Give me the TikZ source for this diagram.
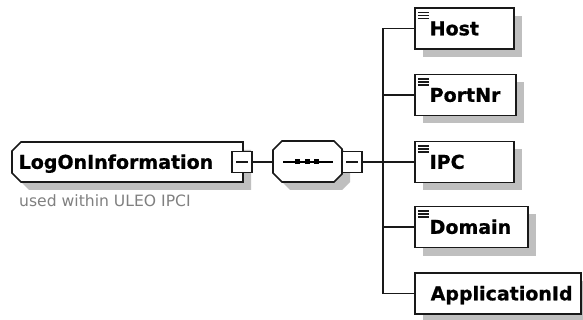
\documentclass[tikz,border=0pt]{standalone}
\usepackage{fontspec}
\setmainfont{DejaVu Sans}
\newfontfamily\heavyfont{DejaVu Sans Bold}[FakeBold=0.8]
\usetikzlibrary{shadows,calc}
\begin{document}
\begin{tikzpicture}[x=1pt,y=-1pt,
  lnc/.style={line width=1.7pt, draw=black!90},
  shadowc/.style={fill=black!25},
  cbox/.style={lnc, fill=white, minimum height=41pt, inner sep=0pt, anchor=west,
    drop shadow={shadow xshift=8pt, shadow yshift=-8pt, fill=black!25, opacity=1}},
  leafmark/.style={path picture={
    \foreach \d in {4.5,7.5,10.5}{\draw[line width=1.2pt] ([shift={(3pt,-\d pt)}]path picture bounding box.north west) -- +(11pt,0);}}},
  ltext/.style={font=\fontsize{19}{20}\selectfont\heavyfont, inner sep=0pt, anchor=base west},
  gtext/.style={font=\fontsize{15.6}{17}\selectfont, text=black!50, inner sep=0pt, anchor=base west},
  minusbox/.style={lnc, fill=white, minimum width=20pt, minimum height=21pt, inner sep=0pt,
    path picture={\draw[line width=1.5pt] ([xshift=4pt]path picture bounding box.west) -- ([xshift=-4pt]path picture bounding box.east);}}
]
\useasboundingbox (0,0) rectangle (583,320);
\fill[white] (0,0) rectangle (583,320);

% root element
\begin{scope}[shift={(8,8)}]
\fill[shadowc] (21,142) -- (243,142) -- (243,182) -- (21,182) -- (12,173) -- (12,151) -- cycle;
\end{scope}
\draw[lnc, fill=white] (21,142) -- (243,142) -- (243,182) -- (21,182) -- (12,173) -- (12,151) -- cycle;
\node[ltext] (root) at (18.5,168.8) {LogOnInformation};
\node[gtext] (used) at (19,207) {used within ULEO IPCI};
\node[minusbox] (rootm) at (242,162) {};

% sequence compositor
\begin{scope}[shift={(8,8)}]
\fill[shadowc] (282,141) -- (334,141) -- (342,149) -- (342,174) -- (334,182) -- (282,182) -- (273,173) -- (273,150) -- cycle;
\end{scope}
\draw[lnc, fill=white] (282,141) -- (334,141) -- (342,149) -- (342,174) -- (334,182) -- (282,182) -- (273,173) -- (273,150) -- cycle;
\coordinate (seqW) at (273,162);
\coordinate (dl) at (283,162);
\coordinate (dr) at (333,162);
\draw[line width=1.5pt] (dl) -- (dr);
\foreach \x in {297.5,307,316.5}{\fill (\x-2.5,159.5) rectangle (\x+2.5,164.5);}
\node[minusbox] (seqm) at (352,162) {};
\draw[lnc] (rootm.east) -- (seqW);

% children
\node[cbox, minimum width=99pt, leafmark] (host) at (414,28.5) {};
\node[cbox, minimum width=101pt, leafmark] (portnr) at (414,95) {};
\node[cbox, minimum width=99pt, leafmark] (ipc) at (414,162) {};
\node[cbox, minimum width=113pt, leafmark] (domain) at (414,227) {};
\node[cbox, minimum width=166pt] (appid) at (414,293.5) {};

\node[ltext] (hostT) at ($(host.west)+(15.5,6.8)$) {Host};
\node[ltext] (portnrT) at ($(portnr.west)+(15.5,6.8)$) {PortNr};
\node[ltext] (ipcT) at ($(ipc.west)+(15.5,6.8)$) {IPC};
\node[ltext] (domainT) at ($(domain.west)+(15.5,6.8)$) {Domain};
\node[ltext] (appidT) at ($(appid.west)+(16.5,6.8)$) {ApplicationId};

% connectors
\coordinate (bus) at (383,162);
\draw[lnc] (seqm.east) -- (bus);
\draw[lnc] (bus |- host.west) -- (bus |- appid.west);
\foreach \n in {host,portnr,ipc,domain,appid}{\draw[lnc] (bus |- \n.west) -- (\n.west);}
\end{tikzpicture}
\end{document}
